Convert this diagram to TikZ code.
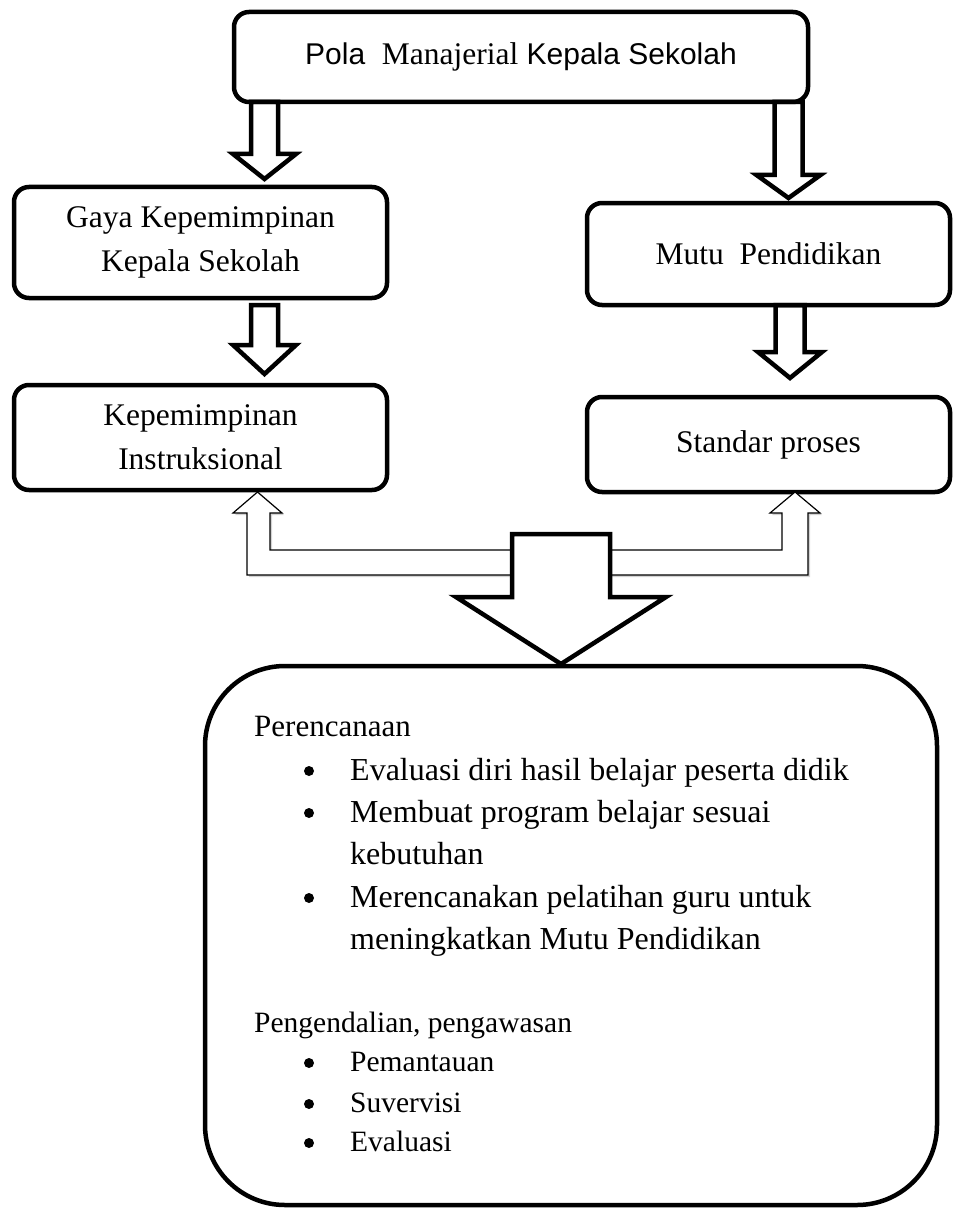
\documentclass[tikz,border=0pt]{standalone}
\usepackage{fontspec}
\setmainfont{Liberation Serif}
\newfontfamily\arialfont{Liberation Sans}
\usetikzlibrary{positioning, calc, shadows}

\tikzset{
  box/.style={draw, line width=4.5pt, rounded corners=15pt, align=center,
    font=\fontsize{31.5}{44}\selectfont},
  blockarrow/.style={draw, line width=4.5pt, fill=white, line join=miter},
  thinarrow/.style={draw, line width=1.2pt, fill=white, line join=miter,
    drop shadow={shadow xshift=2pt, shadow yshift=-2pt, opacity=0.35}},
  bigtext/.style={anchor=base west, inner sep=0pt, font=\fontsize{32}{42}\selectfont},
  smalltext/.style={anchor=base west, inner sep=0pt, font=\fontsize{29.5}{40}\selectfont},
  dot/.style={circle, fill, inner sep=0pt, minimum size=10pt}
}

\newcommand{\blockdown}[5]{% start, end, half shaft, half head, head length
  \draw[blockarrow] ($(#1)+(-#3,0)$) -- ($(#2)+(-#3,-#5)$) -- ($(#2)+(-#4,-#5)$)
    -- (#2) -- ($(#2)+(#4,-#5)$) -- ($(#2)+(#3,-#5)$) -- ($(#1)+(#3,0)$) -- cycle;
}

\begin{document}
\begin{tikzpicture}[x=1pt, y=-1pt]
  \useasboundingbox (0,0) rectangle (954,1209);

  % arrows first, boxes on top
  \coordinate (a1s) at (264.5,102);
  \coordinate (a1e) at (264.5,179);
  \coordinate (a2s) at (264.5,305);
  \coordinate (a2e) at (264.5,374);
  \coordinate (a3s) at (788.5,102);
  \coordinate (a3e) at (788.5,198);
  \coordinate (a4s) at (790,305);
  \coordinate (a4e) at (790,378);
  \blockdown{a1s}{a1e}{13.5}{31.5}{25}
  \blockdown{a2s}{a2e}{13.5}{31.5}{29}
  \blockdown{a3s}{a3e}{14}{32}{23}
  \blockdown{a4s}{a4e}{14.5}{32}{26}

  \node[box, minimum width=574pt, minimum height=90pt] (pola) at (521,57)
    {{\arialfont\fontsize{30}{40}\selectfont Pola\ \ }Manajerial{\arialfont\fontsize{30}{40}\selectfont\ Kepala Sekolah}};
  \node[box, minimum width=373pt, minimum height=111pt] (gaya) at (200.5,242.5)
    {Gaya Kepemimpinan\\Kepala Sekolah};
  \node[box, minimum width=373pt, minimum height=105pt] (kep) at (200.5,437.5)
    {Kepemimpinan\\Instruksional};
  \node[box, minimum width=363pt, minimum height=102pt] (mutu) at (768.5,254)
    {Mutu\ \ Pendidikan};
  \node[box, minimum width=363pt, minimum height=95pt] (standar) at (768.5,444.5)
    {Standar proses};

  % two-headed bent arrow back to the boxes
  \draw[thinarrow] (247,575) -- (247,513) -- (233,513) -- (257.5,492) -- (282,513)
    -- (270,513) -- (270,550) -- (782,550) -- (782,513) -- (770,513) -- (795,492)
    -- (820,513) -- (808,513) -- (808,575) -- cycle;

  % big arrow down
  \draw[blockarrow] (512,534) -- (512,597) -- (456,597) -- (561,664) -- (666,597)
    -- (610,597) -- (610,534) -- cycle;

  \node[box, rounded corners=80pt, minimum width=732pt, minimum height=539pt] (rencana)
    at (571,935.5) {};

  \node[bigtext] (p0) at (254,736) {\fontsize{31}{40}\selectfont Perencanaan};
  \node[bigtext] (p1) at (350,780) {Evaluasi diri hasil belajar peserta didik};
  \node[bigtext] (p2) at (350,822) {Membuat program belajar sesuai};
  \node[bigtext] (p3) at (350,864) {kebutuhan};
  \node[bigtext] (p4) at (350,907) {Merencanakan pelatihan guru untuk};
  \node[bigtext] (p5) at (350,949) {meningkatkan Mutu Pendidikan};
  \node[dot] (b1) at (309,771) {};
  \node[dot] (b2) at (309,813) {};
  \node[dot] (b4) at (309,898) {};

  \node[smalltext] (q0) at (254,1032) {Pengendalian, pengawasan};
  \node[smalltext] (q1) at (350,1071) {Pemantauan};
  \node[smalltext] (q2) at (350,1112) {Suvervisi};
  \node[smalltext] (q3) at (350,1151) {Evaluasi};
  \node[dot] (c1) at (309,1063) {};
  \node[dot] (c2) at (309,1104) {};
  \node[dot] (c3) at (309,1143) {};
\end{tikzpicture}
\end{document}
